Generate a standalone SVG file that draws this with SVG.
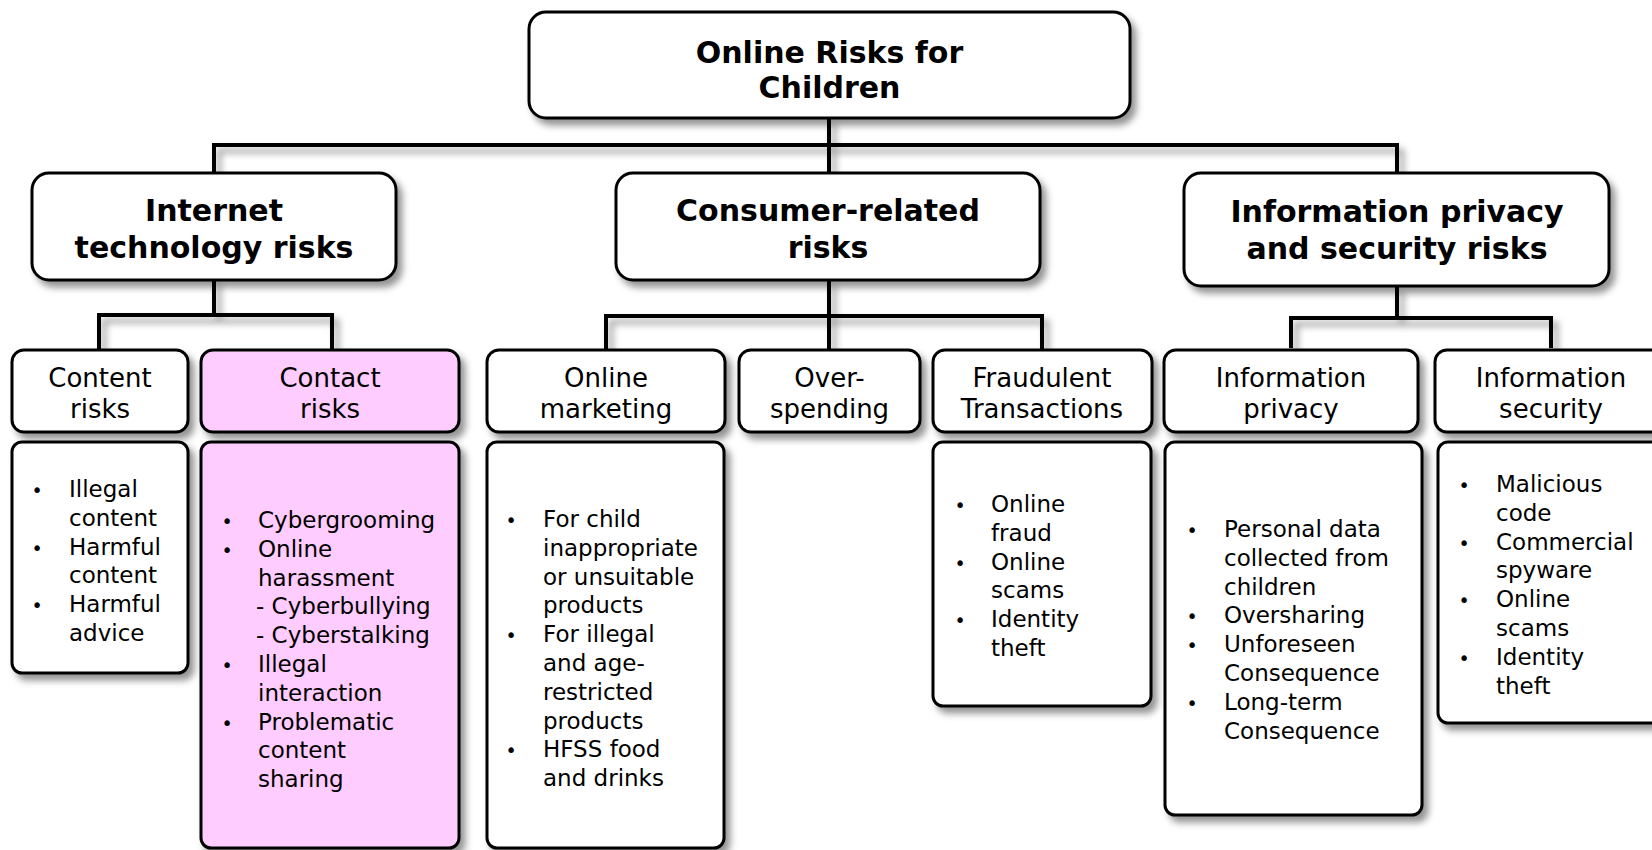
<svg xmlns="http://www.w3.org/2000/svg" width="1652" height="850" viewBox="0 0 1652 850">
<defs>
<filter id="sh" filterUnits="userSpaceOnUse" x="-20" y="-20" width="1700" height="900">
<feDropShadow dx="5" dy="6" stdDeviation="3.5" flood-color="#000" flood-opacity="0.42"/>
</filter>
</defs>
<style>
text{font-family:"DejaVu Sans",Verdana,sans-serif;fill:#000}
.b{font-weight:bold;font-size:30px;text-anchor:middle}
.h{font-size:26px;text-anchor:middle}
.l{font-size:23px}
.bu{font-size:19px;text-anchor:middle}
.box{fill:#fff;stroke:#000;stroke-width:3;filter:url(#sh)}
.pink{fill:#FFCCFF}
.con{fill:none;stroke:#000;stroke-width:4;filter:url(#sh)}
</style>
<rect width="1652" height="850" fill="#fff"/>
<g id="connectors" class="con">
<path d="M829,118 V173"/>
<path d="M214,173 V145 H1397 V173"/>
<path d="M214,280 V315"/>
<path d="M99,350 V315 H332 V350"/>
<path d="M829,280 V350"/>
<path d="M606,350 V316 H1042 V350"/>
<path d="M1397,286 V318"/>
<path d="M1291,348 V318 H1551 V348"/>
</g>
<g id="root">
<rect class="box" x="529" y="12" width="601" height="106" rx="17"/>
<text class="b" x="829.5" y="63">Online Risks for</text>
<text class="b" x="829.5" y="98">Children</text>
</g>
<g id="internet-tech">
<rect class="box" x="32" y="173" width="364" height="107" rx="17"/>
<text class="b" x="214" y="221">Internet</text>
<text class="b" x="214" y="258">technology risks</text>
</g>
<g id="consumer">
<rect class="box" x="616" y="173" width="424" height="107" rx="17"/>
<text class="b" x="828" y="221">Consumer-related</text>
<text class="b" x="828" y="258">risks</text>
</g>
<g id="info-privacy-security">
<rect class="box" x="1184" y="173" width="425" height="113" rx="17"/>
<text class="b" x="1397" y="222">Information privacy</text>
<text class="b" x="1397" y="259">and security risks</text>
</g>
<g id="content-risks">
<rect class="box" x="12" y="350" width="176" height="82" rx="12"/>
<text class="h" x="100" y="387">Content</text>
<text class="h" x="100" y="418">risks</text>
</g>
<g id="contact-risks">
<rect class="box pink" x="201" y="350" width="258" height="82" rx="12"/>
<text class="h" x="330" y="387">Contact</text>
<text class="h" x="330" y="418">risks</text>
</g>
<g id="online-marketing">
<rect class="box" x="487" y="350" width="238" height="82" rx="12"/>
<text class="h" x="606" y="387">Online</text>
<text class="h" x="606" y="418">marketing</text>
</g>
<g id="over-spending">
<rect class="box" x="739" y="350" width="181" height="82" rx="12"/>
<text class="h" x="829.5" y="387">Over-</text>
<text class="h" x="829.5" y="418">spending</text>
</g>
<g id="fraudulent">
<rect class="box" x="933" y="350" width="219" height="82" rx="12"/>
<text class="h" x="1042" y="387">Fraudulent</text>
<text class="h" x="1042" y="418">Transactions</text>
</g>
<g id="information-privacy">
<rect class="box" x="1164" y="350" width="254" height="82" rx="12"/>
<text class="h" x="1291" y="387">Information</text>
<text class="h" x="1291" y="418">privacy</text>
</g>
<g id="information-security">
<rect class="box" x="1435" y="350" width="240" height="82" rx="12"/>
<text class="h" x="1551" y="387">Information</text>
<text class="h" x="1551" y="418">security</text>
</g>
<g id="content-list">
<rect class="box" x="12" y="442" width="176" height="231" rx="10"/>
<text class="bu" x="37" y="497">•</text><text class="l" x="69" y="497">Illegal</text>
<text class="l" x="69" y="526">content</text>
<text class="bu" x="37" y="555">•</text><text class="l" x="69" y="555">Harmful</text>
<text class="l" x="69" y="583">content</text>
<text class="bu" x="37" y="612">•</text><text class="l" x="69" y="612">Harmful</text>
<text class="l" x="69" y="641">advice</text>
</g>
<g id="contact-list">
<rect class="box pink" x="201" y="442" width="258" height="406" rx="10"/>
<text class="bu" x="227" y="528">•</text><text class="l" x="258" y="528">Cybergrooming</text>
<text class="bu" x="227" y="557">•</text><text class="l" x="258" y="557">Online</text>
<text class="l" x="258" y="586">harassment</text>
<text class="l" x="256" y="614">- Cyberbullying</text>
<text class="l" x="256" y="643">- Cyberstalking</text>
<text class="bu" x="227" y="672">•</text><text class="l" x="258" y="672">Illegal</text>
<text class="l" x="258" y="701">interaction</text>
<text class="bu" x="227" y="730">•</text><text class="l" x="258" y="730">Problematic</text>
<text class="l" x="258" y="758">content</text>
<text class="l" x="258" y="787">sharing</text>
</g>
<g id="marketing-list">
<rect class="box" x="487" y="442" width="237" height="406" rx="10"/>
<text class="bu" x="511" y="527">•</text><text class="l" x="543" y="527">For child</text>
<text class="l" x="543" y="556">inappropriate</text>
<text class="l" x="543" y="585">or unsuitable</text>
<text class="l" x="543" y="613">products</text>
<text class="bu" x="511" y="642">•</text><text class="l" x="543" y="642">For illegal</text>
<text class="l" x="543" y="671">and age-</text>
<text class="l" x="543" y="700">restricted</text>
<text class="l" x="543" y="729">products</text>
<text class="bu" x="511" y="757">•</text><text class="l" x="543" y="757">HFSS food</text>
<text class="l" x="543" y="786">and drinks</text>
</g>
<g id="fraud-list">
<rect class="box" x="933" y="442" width="218" height="264" rx="10"/>
<text class="bu" x="960" y="512">•</text><text class="l" x="991" y="512">Online</text>
<text class="l" x="991" y="541">fraud</text>
<text class="bu" x="960" y="570">•</text><text class="l" x="991" y="570">Online</text>
<text class="l" x="991" y="598">scams</text>
<text class="bu" x="960" y="627">•</text><text class="l" x="991" y="627">Identity</text>
<text class="l" x="991" y="656">theft</text>
</g>
<g id="privacy-list">
<rect class="box" x="1165" y="442" width="257" height="373" rx="10"/>
<text class="bu" x="1192" y="537">•</text><text class="l" x="1224" y="537">Personal data</text>
<text class="l" x="1224" y="566">collected from</text>
<text class="l" x="1224" y="595">children</text>
<text class="bu" x="1192" y="623">•</text><text class="l" x="1224" y="623">Oversharing</text>
<text class="bu" x="1192" y="652">•</text><text class="l" x="1224" y="652">Unforeseen</text>
<text class="l" x="1224" y="681">Consequence</text>
<text class="bu" x="1192" y="710">•</text><text class="l" x="1224" y="710">Long-term</text>
<text class="l" x="1224" y="739">Consequence</text>
</g>
<g id="security-list">
<rect class="box" x="1438" y="442" width="240" height="281" rx="10"/>
<text class="bu" x="1464" y="492">•</text><text class="l" x="1496" y="492">Malicious</text>
<text class="l" x="1496" y="521">code</text>
<text class="bu" x="1464" y="550">•</text><text class="l" x="1496" y="550">Commercial</text>
<text class="l" x="1496" y="578">spyware</text>
<text class="bu" x="1464" y="607">•</text><text class="l" x="1496" y="607">Online</text>
<text class="l" x="1496" y="636">scams</text>
<text class="bu" x="1464" y="665">•</text><text class="l" x="1496" y="665">Identity</text>
<text class="l" x="1496" y="694">theft</text>
</g>
</svg>
